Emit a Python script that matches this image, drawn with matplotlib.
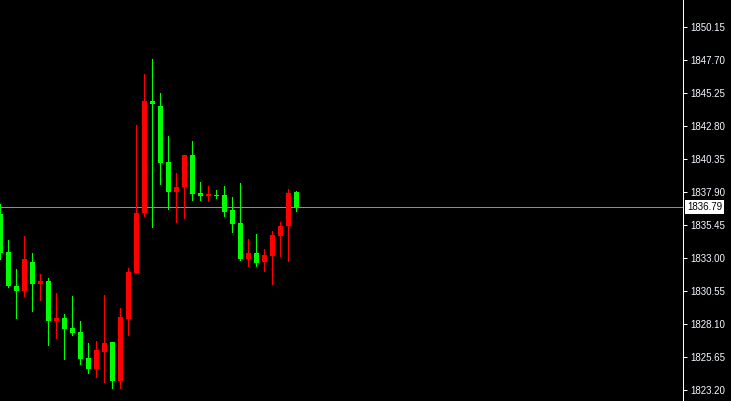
import matplotlib
matplotlib.use("Agg")
import matplotlib.pyplot as plt
from matplotlib.transforms import blended_transform_factory
import numpy as np

# OHLC data
opens = [1836.27, 1833.47, 1830.92, 1830.57, 1832.72, 1831.09, 1831.29, 1828.34, 1828.55, 1827.80,
         1827.51, 1825.58, 1824.78, 1826.04, 1826.76, 1823.89, 1828.49, 1831.89, 1836.34, 1844.66,
         1844.28, 1840.13, 1837.90, 1838.27, 1840.65, 1837.83, 1837.60, 1837.68, 1837.68, 1836.56,
         1835.60, 1832.93, 1833.37, 1832.70, 1833.15, 1834.63, 1835.38, 1837.90]
highs = [1837.01, 1834.34, 1832.18, 1834.63, 1833.37, 1831.81, 1831.52, 1830.40, 1828.84, 1830.18,
         1828.32, 1826.69, 1826.84, 1830.25, 1826.76, 1829.29, 1832.26, 1842.87, 1846.66, 1847.77,
         1845.25, 1842.06, 1839.31, 1840.65, 1841.69, 1838.64, 1838.35, 1838.05, 1838.35, 1837.53,
         1838.57, 1834.41, 1834.78, 1833.67, 1835.00, 1835.67, 1838.12, 1837.97]
lows = [1832.85, 1830.79, 1828.47, 1830.13, 1829.01, 1829.83, 1826.49, 1827.01, 1825.45, 1827.23,
        1825.08, 1824.41, 1824.11, 1823.74, 1823.30, 1823.30, 1827.23, 1831.81, 1836.07, 1835.25,
        1838.42, 1836.56, 1835.62, 1835.90, 1837.23, 1837.23, 1837.16, 1837.38, 1836.04, 1834.86,
        1832.78, 1832.33, 1832.33, 1831.96, 1830.99, 1833.07, 1832.70, 1836.42]
closes = [1833.39, 1830.92, 1830.57, 1832.93, 1831.09, 1831.29, 1828.34, 1828.55, 1827.75, 1827.45,
          1825.52, 1824.78, 1826.17, 1826.69, 1823.89, 1828.62, 1831.98, 1836.34, 1844.66, 1844.43,
          1840.05, 1837.90, 1838.27, 1840.65, 1837.75, 1837.60, 1837.75, 1837.60, 1836.42, 1835.52,
          1832.93, 1833.37, 1832.63, 1833.22, 1834.71, 1835.38, 1837.83, 1836.79]
tick_values = [1850.15, 1847.70, 1845.25, 1842.80, 1840.35, 1837.90, 1835.45,
               1833.00, 1830.55, 1828.10, 1825.65, 1823.20]
tick_labels = ["1850.15", "1847.70", "1845.25", "1842.80", "1840.35", "1837.90", "1835.45",
               "1833.00", "1830.55", "1828.10", "1825.65", "1823.20"]
last_price = 1836.79

UP = "#ff0000"
DOWN = "#00ff00"
BG = "black"
PRICE_LINE = "#8290a6"
LABEL = "#f4f8ff"

W, H = 731, 401
fig = plt.figure(figsize=(W / 100, H / 100), dpi=100, facecolor=BG)
plot_w = 683
ax = fig.add_axes([0, 0, plot_w / W, 1], facecolor=BG)

px_per_bar = 8.0
x = np.arange(len(opens))
ax.set_xlim(-0.5 / px_per_bar, (plot_w - 0.5) / px_per_bar)
px_per_unit = 33 / 2.45
ymax = 1850.15 + 27 / px_per_unit
ymin = 1850.15 - (H - 27) / px_per_unit
ax.set_ylim(ymin, ymax)

min_h = 1.0 / px_per_unit
o = np.array(opens); h = np.array(highs); l = np.array(lows); c = np.array(closes)
cols = [UP if cc > oo else DOWN for oo, cc in zip(o, c)]
# wicks: 1-pixel-wide rectangles
ax.bar(x, h - l, width=1 / px_per_bar, bottom=l, color=cols,
       linewidth=0, antialiased=False, zorder=2)
# bodies: 5-pixel-wide rectangles
ax.bar(x, np.maximum(np.abs(c - o), min_h), width=5 / px_per_bar, bottom=np.minimum(o, c),
       color=cols, linewidth=0, antialiased=False, zorder=3)

ax.axhline(last_price, color=PRICE_LINE, linewidth=0.6, antialiased=False, zorder=1)

for s in ["top", "left", "bottom"]:
    ax.spines[s].set_visible(False)
ax.spines["right"].set_color("white")
ax.spines["right"].set_linewidth(0.72)

ax.set_xticks([])
ax.yaxis.tick_right()
ax.set_yticks(tick_values)
ax.set_yticklabels(tick_labels)
ax.tick_params(axis="y", colors="white", length=3, width=0.72, pad=2.2,
               labelsize=7.0, labelcolor=LABEL)
for t in ax.get_yticklabels():
    t.set_family(["Liberation Sans", "DejaVu Sans"])

tr = blended_transform_factory(ax.transAxes, ax.transData)
ax.text(1 + 4 / plot_w, last_price, "1836.79", transform=tr, ha="left", va="center",
        fontsize=7.0, family=["Liberation Sans", "DejaVu Sans"], color="black",
        bbox=dict(boxstyle="square,pad=0.22", fc="white", ec="none"), clip_on=False, zorder=5)

fig.savefig("out.png", dpi=100, facecolor=BG)
